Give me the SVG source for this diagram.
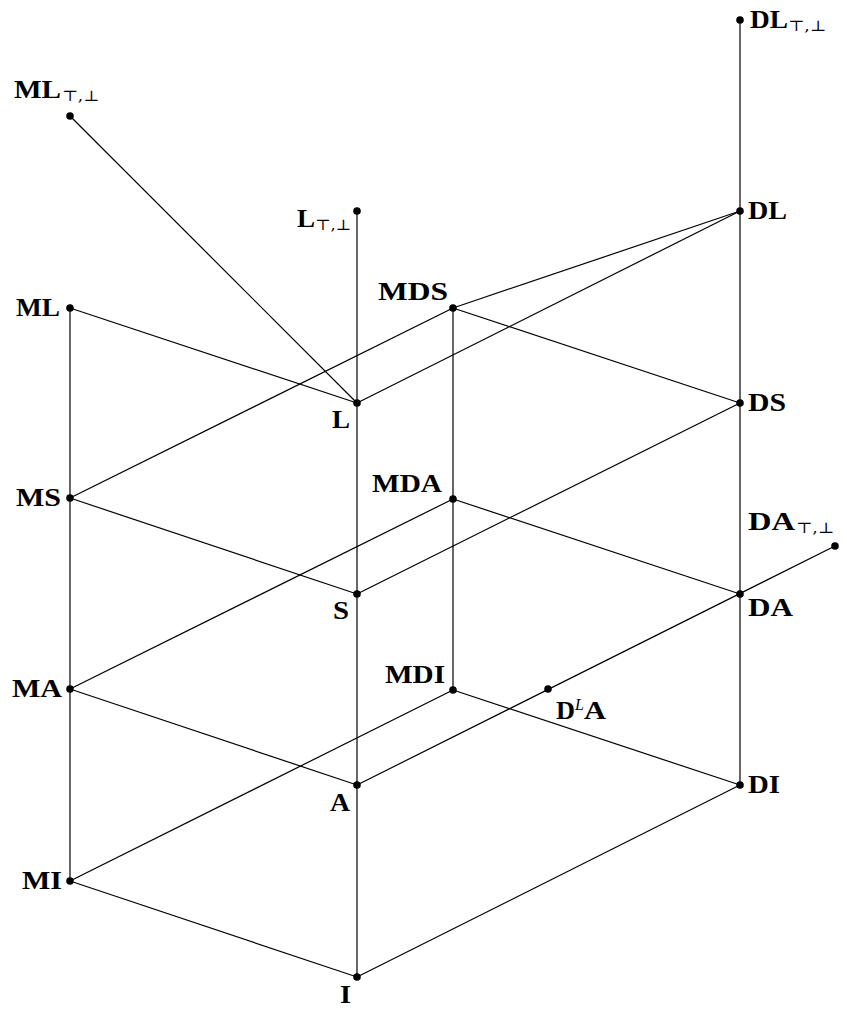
<svg xmlns="http://www.w3.org/2000/svg" width="847" height="1010" viewBox="0 0 847 1010">
<style>
.e{stroke:#000;stroke-width:1.2;fill:none}
.d{fill:#000}
.lb{font-family:"Liberation Serif",serif;font-weight:bold;font-size:25px;fill:#000}
.sb{font-family:"DejaVu Serif","DejaVu Sans",serif;font-size:15px;fill:#000}
.sp{font-family:"Liberation Serif",serif;font-style:italic;font-size:16px;fill:#000}
</style>
<rect width="847" height="1010" fill="#fff"/>
<g id="connectors">
<line class="e" x1="740" y1="20" x2="740" y2="785"/>
<line class="e" x1="357" y1="211" x2="357" y2="977"/>
<line class="e" x1="70" y1="308" x2="70" y2="881"/>
<line class="e" x1="453" y1="308" x2="453" y2="690"/>
<line class="e" x1="70" y1="116" x2="357" y2="403"/>
<line class="e" x1="70" y1="308" x2="357" y2="403"/>
<line class="e" x1="357" y1="403" x2="740" y2="211"/>
<line class="e" x1="453" y1="308" x2="740" y2="211"/>
<line class="e" x1="453" y1="308" x2="740" y2="403"/>
<line class="e" x1="70" y1="498" x2="453" y2="308"/>
<line class="e" x1="70" y1="498" x2="357" y2="594"/>
<line class="e" x1="357" y1="594" x2="740" y2="403"/>
<line class="e" x1="70" y1="689" x2="453" y2="499"/>
<line class="e" x1="453" y1="499" x2="740" y2="594"/>
<line class="e" x1="70" y1="689" x2="357" y2="785"/>
<line class="e" x1="357" y1="785" x2="835" y2="546"/>
<line class="e" x1="453" y1="690" x2="740" y2="785"/>
<line class="e" x1="70" y1="881" x2="453" y2="690"/>
<line class="e" x1="70" y1="881" x2="357" y2="977"/>
<line class="e" x1="357" y1="977" x2="740" y2="785"/>
</g>
<g id="n-DLtb"><circle class="d" cx="740" cy="20" r="3.8"/><text class="lb" x="750" y="28" textLength="38" lengthAdjust="spacingAndGlyphs">DL</text><text class="sb" x="788" y="31" textLength="38" lengthAdjust="spacingAndGlyphs">⊤,⊥</text></g>
<g id="n-MLtb"><circle class="d" cx="70" cy="116" r="3.8"/><text class="lb" x="14" y="98" textLength="47" lengthAdjust="spacingAndGlyphs">ML</text><text class="sb" x="62" y="101" textLength="37" lengthAdjust="spacingAndGlyphs">⊤,⊥</text></g>
<g id="n-Ltb"><circle class="d" cx="357" cy="211" r="3.8"/><text class="lb" x="297" y="227" textLength="18" lengthAdjust="spacingAndGlyphs">L</text><text class="sb" x="315" y="230" textLength="36" lengthAdjust="spacingAndGlyphs">⊤,⊥</text></g>
<g id="n-DL"><circle class="d" cx="740" cy="211" r="3.8"/><text class="lb" x="748" y="219" textLength="39" lengthAdjust="spacingAndGlyphs">DL</text></g>
<g id="n-ML"><circle class="d" cx="70" cy="308" r="3.8"/><text class="lb" x="16" y="316" textLength="44" lengthAdjust="spacingAndGlyphs">ML</text></g>
<g id="n-MDS"><circle class="d" cx="453" cy="308" r="3.8"/><text class="lb" x="378" y="300" textLength="70" lengthAdjust="spacingAndGlyphs">MDS</text></g>
<g id="n-L"><circle class="d" cx="357" cy="403" r="3.8"/><text class="lb" x="332" y="428" textLength="18" lengthAdjust="spacingAndGlyphs">L</text></g>
<g id="n-DS"><circle class="d" cx="740" cy="403" r="3.8"/><text class="lb" x="748" y="411" textLength="38" lengthAdjust="spacingAndGlyphs">DS</text></g>
<g id="n-MS"><circle class="d" cx="70" cy="498" r="3.8"/><text class="lb" x="16" y="506" textLength="45" lengthAdjust="spacingAndGlyphs">MS</text></g>
<g id="n-MDA"><circle class="d" cx="453" cy="499" r="3.8"/><text class="lb" x="372" y="492" textLength="70" lengthAdjust="spacingAndGlyphs">MDA</text></g>
<g id="n-DAtb"><circle class="d" cx="835" cy="546" r="3.8"/><text class="lb" x="748" y="530" textLength="47" lengthAdjust="spacingAndGlyphs">DA</text><text class="sb" x="796" y="533" textLength="38" lengthAdjust="spacingAndGlyphs">⊤,⊥</text></g>
<g id="n-S"><circle class="d" cx="357" cy="594" r="3.8"/><text class="lb" x="333" y="619" textLength="16" lengthAdjust="spacingAndGlyphs">S</text></g>
<g id="n-DA"><circle class="d" cx="740" cy="594" r="3.8"/><text class="lb" x="748" y="616" textLength="45" lengthAdjust="spacingAndGlyphs">DA</text></g>
<g id="n-MA"><circle class="d" cx="70" cy="689" r="3.8"/><text class="lb" x="12" y="697" textLength="50" lengthAdjust="spacingAndGlyphs">MA</text></g>
<g id="n-MDI"><circle class="d" cx="453" cy="690" r="3.8"/><text class="lb" x="385" y="683" textLength="60" lengthAdjust="spacingAndGlyphs">MDI</text></g>
<g id="n-DLA"><circle class="d" cx="548" cy="689" r="3.8"/><text class="lb" x="556" y="719" textLength="19" lengthAdjust="spacingAndGlyphs">D</text><text class="sp" x="575" y="710">L</text><text class="lb" x="584" y="719" textLength="22" lengthAdjust="spacingAndGlyphs">A</text></g>
<g id="n-A"><circle class="d" cx="357" cy="785" r="3.8"/><text class="lb" x="330" y="811" textLength="20" lengthAdjust="spacingAndGlyphs">A</text></g>
<g id="n-DI"><circle class="d" cx="740" cy="785" r="3.8"/><text class="lb" x="748" y="793" textLength="32" lengthAdjust="spacingAndGlyphs">DI</text></g>
<g id="n-MI"><circle class="d" cx="70" cy="881" r="3.8"/><text class="lb" x="22" y="889" textLength="40" lengthAdjust="spacingAndGlyphs">MI</text></g>
<g id="n-I"><circle class="d" cx="357" cy="977" r="3.8"/><text class="lb" x="340" y="1003" textLength="11" lengthAdjust="spacingAndGlyphs">I</text></g>
</svg>
